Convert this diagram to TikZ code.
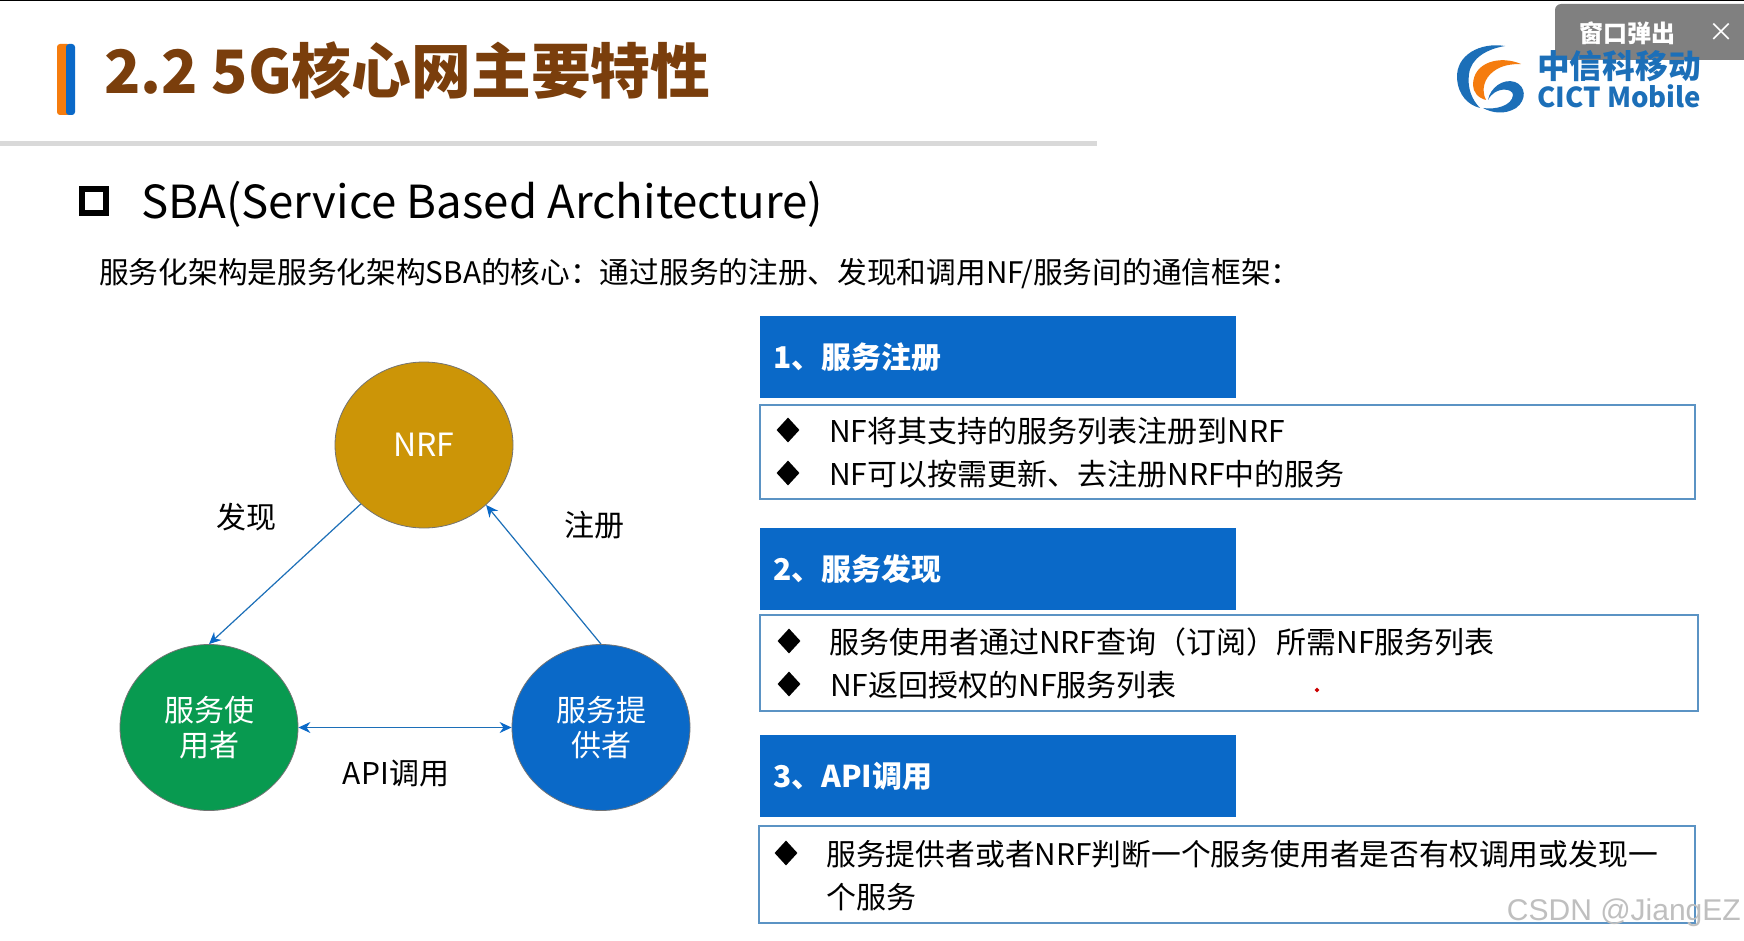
\documentclass[tikz,border=0pt]{standalone}
\usepackage{fontspec}
\setmainfont{Noto Sans CJK SC}
\newfontfamily\wmfont{Liberation Sans}
\usetikzlibrary{arrows.meta, positioning, shapes.geometric}
\definecolor{titlebrown}{HTML}{7A3E0C}
\definecolor{barorange}{HTML}{F57C0E}
\definecolor{cictblue}{HTML}{0A69C8}
\definecolor{logoblue}{HTML}{1C6FB8}
\definecolor{nrfgold}{HTML}{CC9507}
\definecolor{usergreen}{HTML}{089A50}
\definecolor{linegray}{HTML}{D9D9D9}
\definecolor{boxline}{HTML}{5B93C4}
\definecolor{popupgray}{HTML}{808080}
\begin{document}
\begin{tikzpicture}[
    x=1pt, y=-1pt,
    font=\fontsize{30}{36}\selectfont,
    party/.style={ellipse, draw=black!55, line width=0.8pt, minimum width=178pt,
                  minimum height=166pt, inner sep=0pt, align=center, text=white, fill=#1},
    headbar/.style={fill=cictblue, minimum width=476pt, minimum height=82pt, inner xsep=13pt,
                    text width=450pt, text=white, font=\fontsize{30}{36}\selectfont\bfseries},
    itembox/.style={draw=boxline, line width=1.6pt, fill=white, minimum width=#1,
                    minimum height=94pt, inner sep=0pt},
    bullet/.style={diamond, fill=black, minimum width=23pt, minimum height=25pt, inner sep=0pt},
    item/.style={anchor=west, inner sep=0pt},
    flow/.style={draw=logoblue, line width=1.2pt, -{Stealth[length=12pt,width=11pt,color=cictblue]}},
  ]
    \useasboundingbox (0,0) rectangle (1744,941);
    \fill[white] (0,0) rectangle (1744,941);
    \fill[black] (0,0) rectangle (1744,1.5);
    % title row
    \fill[barorange, rounded corners=3pt] (57,44) rectangle (70,115);
    \fill[cictblue, rounded corners=3pt] (66,44) rectangle (75,115);
    \node[anchor=base west, inner sep=0pt, text=titlebrown, font=\fontsize{59.8}{70}\selectfont\bfseries]
      (title) at (104,94) {2.2 5G核心网主要特性};
    \fill[linegray] (0,141) rectangle (1097,146.5);
    \draw[line width=6pt] (82,189) rectangle (106,213);
    \node[anchor=base west, inner sep=0pt, font=\fontsize{45.6}{56}\selectfont]
      (sba) at (141,219) {SBA(Service Based Architecture)};
    \node[anchor=west, inner sep=0pt, font=\fontsize{29.7}{36}\selectfont] (intro) at (99,274)
      {服务化架构是服务化架构SBA的核心：通过服务的注册、发现和调用NF/服务间的通信框架：};
    % left triangle
    \node[party=nrfgold, font=\fontsize{32}{36}\selectfont] (nrf) at (424,445) {NRF};
    \node[party=usergreen] (user) at (209,727.5) {服务使\\[-1pt]用者};
    \node[party=cictblue] (provider) at (601,727.5) {服务提\\[-1pt]供者};
    \draw[flow] (nrf.223) -- (user.north);
    \draw[flow] (provider.north) -- (nrf.316);
    \draw[flow, {Stealth[length=12pt,width=11pt,color=cictblue]}-{Stealth[length=12pt,width=11pt,color=cictblue]}]
      (user.east) -- (provider.west);
    \node (find) at (246,517) {发现};
    \node (reg) at (594,525) {注册};
    \node (api) at (396,773) {API调用};
    % right column
    \node[headbar] (h1) at (998,357) {1、服务注册};
    \node[itembox=935pt] (b1) at (1227.5,452) {};
    \node[bullet] (d1a) at (788,430) {};
    \node[item] (t1a) at (829,431) {NF将其支持的服务列表注册到NRF};
    \node[bullet] (d1b) at (788,473) {};
    \node[item] (t1b) at (829,474) {NF可以按需更新、去注册NRF中的服务};
    \node[headbar] (h2) at (998,569) {2、服务发现};
    \node[itembox=938pt, minimum height=96pt] (b2) at (1229,663) {};
    \node[bullet] (d2a) at (789,641) {};
    \node[item] (t2a) at (829,642) {服务使用者通过NRF查询（订阅）所需NF服务列表};
    \node[bullet] (d2b) at (789,684) {};
    \node[item] (t2b) at (830,685) {NF返回授权的NF服务列表};
    \node[headbar] (h3) at (998,776) {3、API调用};
    \node[itembox=936pt, minimum height=97pt] (b3) at (1227,874.5) {};
    \node[bullet] (d3a) at (786,853) {};
    \node[item, font=\fontsize{29.8}{36}\selectfont] (t3a) at (826,854) {服务提供者或者NRF判断一个服务使用者是否有权调用或发现一};
    \node[item] (t3b) at (826,897) {个服务};
    \node[diamond, fill=red!80!black, minimum size=5pt, inner sep=0pt] (dot) at (1317,690) {};
    % popup
    \fill[popupgray, rounded corners=6pt] (1555,4) rectangle (1760,60);
    \node[text=white, font=\fontsize{24}{28}\selectfont\bfseries] (popup) at (1627,33) {窗口弹出};
    \node[text=white, font=\fontsize{26}{28}\selectfont] (closex) at (1721,32) {×};
    % logo
    \fill[logoblue] (1505,46) .. controls (1480,42) and (1456,55) .. (1457,78)
      .. controls (1458,95) and (1468,105) .. (1480,108)
      .. controls (1472,100) and (1467,88) .. (1469,74)
      .. controls (1471,58) and (1487,49) .. (1505,46) -- cycle;
    \fill[barorange] (1521,64) .. controls (1500,55) and (1473,62) .. (1473,85)
      .. controls (1473,92) and (1478,98) .. (1486,100)
      .. controls (1481,90) and (1484,78) .. (1494,71)
      .. controls (1502,65) and (1512,64) .. (1521,64) -- cycle;
    \fill[logoblue] (1488,100) .. controls (1490,88) and (1503,78) .. (1515,82)
      .. controls (1526,86) and (1527,100) .. (1516,108)
      .. controls (1505,115) and (1492,113) .. (1483,108)
      .. controls (1495,110) and (1512,106) .. (1513,95)
      .. controls (1513,88) and (1495,86) .. (1488,100) -- cycle;
    \node[anchor=west, inner sep=0pt, text=logoblue, font=\fontsize{32.7}{36}\selectfont\bfseries]
      (cnname) at (1537,66) {中信科移动};
    \node[anchor=west, inner sep=0pt, text=logoblue, font=\fontsize{27.5}{30}\selectfont\bfseries]
      (enname) at (1537,96) {CICT Mobile};
    % watermark
    \node[anchor=east, inner sep=0pt, text=black!25, font=\fontsize{30}{36}\wmfont] (mark) at (1741,913) {CSDN @JiangEZ};
  \end{tikzpicture}
\end{document}
